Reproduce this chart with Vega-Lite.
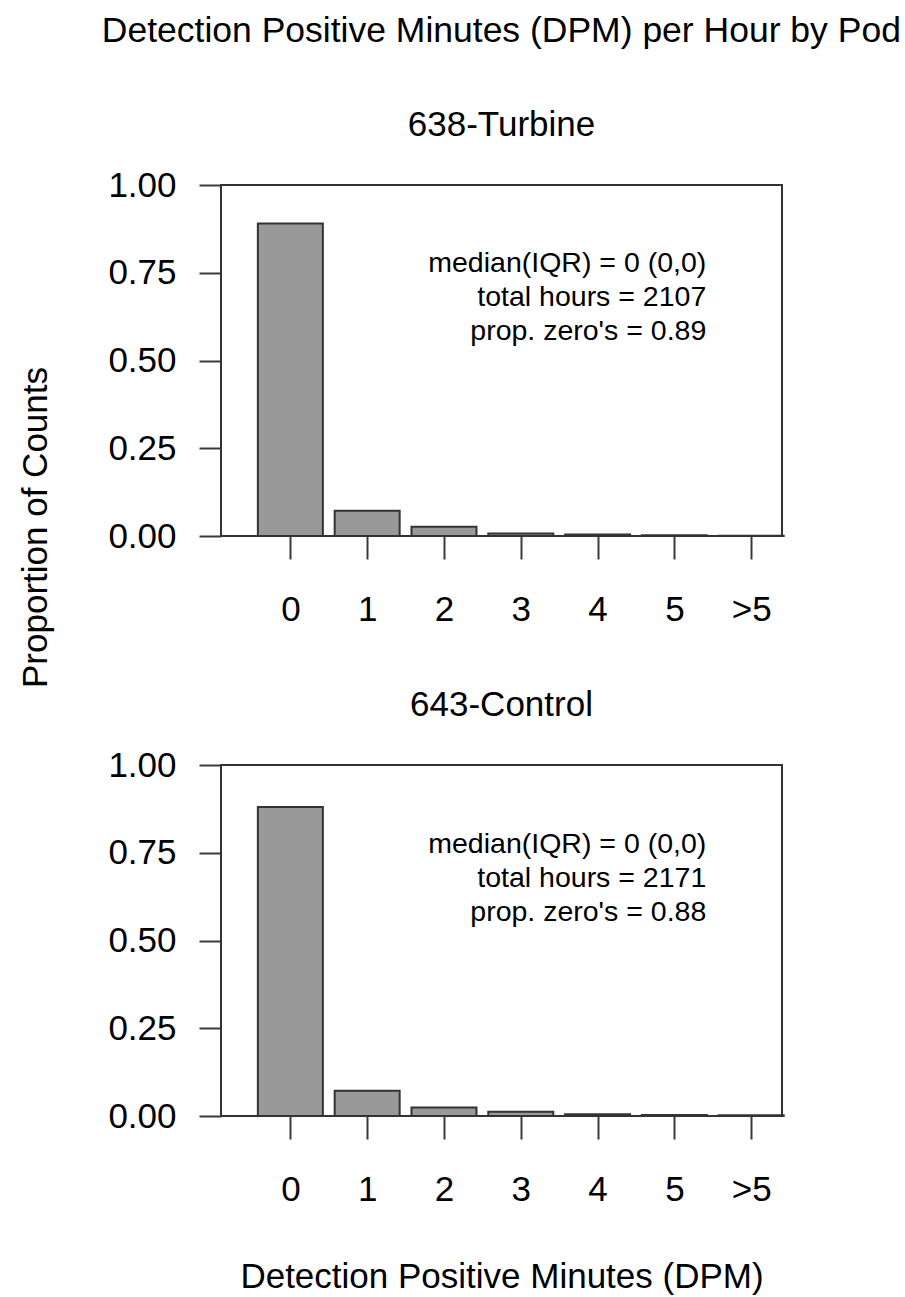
{
  "$schema": "https://vega.github.io/schema/vega-lite/v6.json",
  "background": "white",
  "padding": {"left": 17, "top": 14, "right": 2, "bottom": 3},
  "title": {
    "text": "Detection Positive Minutes (DPM) per Hour by Pod",
    "fontSize": 35.5,
    "fontWeight": "normal",
    "anchor": "middle",
    "baseline": "alphabetic",
    "offset": 29.5,
    "dx": 100
  },
  "config": {
    "font": "Liberation Sans",
    "view": {"stroke": "#333333", "strokeWidth": 2},
    "axis": {
      "grid": false,
      "domain": false,
      "tickColor": "#3a3a3a",
      "tickWidth": 2,
      "labelColor": "#000000",
      "labelFontSize": 35,
      "titleFontSize": 35,
      "titleFontWeight": "normal",
      "titleColor": "#000000"
    },
    "title": {"color": "#000000", "fontWeight": "normal"}
  },
  "datasets": {
    "dpm": [
      {"pod": "638-Turbine", "dpm": "0", "dpm_code": 0, "proportion": 0.89},
      {"pod": "638-Turbine", "dpm": "1", "dpm_code": 1, "proportion": 0.072},
      {"pod": "638-Turbine", "dpm": "2", "dpm_code": 2, "proportion": 0.026},
      {"pod": "638-Turbine", "dpm": "3", "dpm_code": 3, "proportion": 0.007},
      {"pod": "638-Turbine", "dpm": "4", "dpm_code": 4, "proportion": 0.004},
      {"pod": "638-Turbine", "dpm": "5", "dpm_code": 5, "proportion": 0.002},
      {"pod": "638-Turbine", "dpm": ">5", "dpm_code": 6, "proportion": 0.001},
      {"pod": "643-Control", "dpm": "0", "dpm_code": 0, "proportion": 0.88},
      {"pod": "643-Control", "dpm": "1", "dpm_code": 1, "proportion": 0.072},
      {"pod": "643-Control", "dpm": "2", "dpm_code": 2, "proportion": 0.024},
      {"pod": "643-Control", "dpm": "3", "dpm_code": 3, "proportion": 0.012},
      {"pod": "643-Control", "dpm": "4", "dpm_code": 4, "proportion": 0.005},
      {"pod": "643-Control", "dpm": "5", "dpm_code": 5, "proportion": 0.003},
      {"pod": "643-Control", "dpm": ">5", "dpm_code": 6, "proportion": 0.002}
    ]
  },
  "spacing": -2,
  "vconcat": [
    {
      "title": {"text": "638-Turbine", "fontSize": 35, "baseline": "alphabetic", "offset": -3, "anchor": "middle"},
      "width": 561,
      "height": 351,
      "layer": [
        {
          "data": {"name": "dpm"},
          "transform": [{"filter": "datum.pod == '638-Turbine'"}],
          "mark": {"type": "bar", "orient": "vertical", "size": 65, "fill": "#999999", "stroke": "#333333", "strokeWidth": 2},
          "encoding": {
            "x": {
              "field": "dpm_code", "type": "quantitative",
              "scale": {"domain": [-0.838, 6.336], "nice": false, "zero": false},
              "axis": {"values": [0, 1, 2, 3, 4, 5, 6], "format": "d", "labelExpr": "datum.value == 6 ? '>5' : datum.label", "tickSize": 23, "labelPadding": 33, "labelBaseline": "top", "title": null}
            },
            "y": {
              "field": "proportion", "type": "quantitative",
              "scale": {"domain": [0, 1], "nice": false},
              "axis": {"values": [0, 0.25, 0.5, 0.75, 1], "format": ".2f", "tickSize": 22, "labelPadding": 23, "title": "Proportion of Counts", "titleX": -186, "titleY": 342, "titleAngle": -90, "titleAlign": "center", "titleBaseline": "middle"}
            }
          }
        },
        {
          "data": {"values": [{}]},
          "mark": {"type": "text", "align": "right", "baseline": "alphabetic", "fontSize": 28.5, "lineHeight": 34, "color": "#000000"},
          "encoding": {
            "x": {"datum": 5.415, "type": "quantitative"},
            "y": {"datum": 0.752, "type": "quantitative"},
            "text": {"value": ["median(IQR) = 0 (0,0)", "total hours = 2107", "prop. zero's = 0.89"]}
          }
        }
      ]
    },
    {
      "title": {"text": "643-Control", "fontSize": 35, "baseline": "alphabetic", "offset": -3, "anchor": "middle"},
      "width": 561,
      "height": 351,
      "layer": [
        {
          "data": {"name": "dpm"},
          "transform": [{"filter": "datum.pod == '643-Control'"}],
          "mark": {"type": "bar", "orient": "vertical", "size": 65, "fill": "#999999", "stroke": "#333333", "strokeWidth": 2},
          "encoding": {
            "x": {
              "field": "dpm_code", "type": "quantitative",
              "scale": {"domain": [-0.838, 6.336], "nice": false, "zero": false},
              "axis": {"values": [0, 1, 2, 3, 4, 5, 6], "format": "d", "labelExpr": "datum.value == 6 ? '>5' : datum.label", "tickSize": 23, "labelPadding": 33, "labelBaseline": "top", "title": "Detection Positive Minutes (DPM)", "titleX": 280.5, "titleY": 171, "titleAlign": "center", "titleBaseline": "alphabetic"}
            },
            "y": {
              "field": "proportion", "type": "quantitative",
              "scale": {"domain": [0, 1], "nice": false},
              "axis": {"values": [0, 0.25, 0.5, 0.75, 1], "format": ".2f", "tickSize": 22, "labelPadding": 23, "title": " ", "titleX": -186, "titleY": 342, "titleAngle": -90, "titleAlign": "center", "titleBaseline": "middle"}
            }
          }
        },
        {
          "data": {"values": [{}]},
          "mark": {"type": "text", "align": "right", "baseline": "alphabetic", "fontSize": 28.5, "lineHeight": 34, "color": "#000000"},
          "encoding": {
            "x": {"datum": 5.415, "type": "quantitative"},
            "y": {"datum": 0.75, "type": "quantitative"},
            "text": {"value": ["median(IQR) = 0 (0,0)", "total hours = 2171", "prop. zero's = 0.88"]}
          }
        }
      ]
    }
  ]
}
